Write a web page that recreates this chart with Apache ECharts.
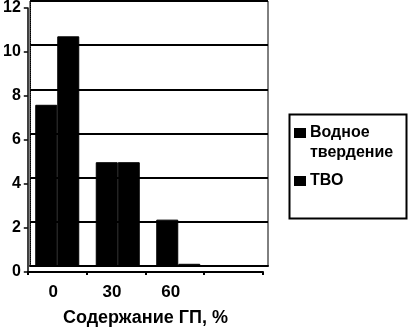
<!DOCTYPE html>
<html>
<head>
<meta charset="utf-8">
<script src="https://cdn.jsdelivr.net/npm/echarts@6/dist/echarts.min.js"></script>
<style>
  html, body { margin: 0; padding: 0; background: #fff; }
  #chart { width: 411px; height: 332px; }
</style>
</head>
<body>
<div id="chart"></div>
<script>
// данные
var categories = ['0', '30', '60', ''];
var vodnoe = [7.3, 4.7, 2.1, null];   // Водное твердение
var tvo = [10.4, 4.7, 0.1, null];     // ТВО
var yMin = 0, yMax = 12, yStep = 2;

var chartDom = document.getElementById('chart');
var myChart = echarts.init(chartDom);

var font = 'Liberation Sans, Arial, sans-serif';

var option = {
  animation: false,
  backgroundColor: '#fff',
  grid: [
    // задняя стенка (линии сетки)
    { left: 30, right: 143, top: 1, bottom: 66, show: true, borderColor: '#000', borderWidth: 1 },
    // передняя ось
    { left: 25, right: 148, top: 5, bottom: 59 },
    // столбцы
    { left: 27, right: 142, top: 1, bottom: 66 }
  ],
  legend: {
    orient: 'vertical',
    left: 294,
    top: 103,
    padding: 0,
    itemWidth: 10,
    itemHeight: 8,
    itemGap: 8,
    icon: 'rect',
    textStyle: { color: '#000', fontSize: 16, fontWeight: 'bold', fontFamily: font, lineHeight: 20 },
    // пустая строка сверху, чтобы маркер стоял у первой строки
    formatter: function (name) {
      return name === 'Водное твердение' ? '\nВодное\nтвердение' : name;
    },
    data: ['Водное твердение', 'ТВО']
  },
  xAxis: [
    {
      gridIndex: 0, type: 'category', data: categories,
      axisLine: { lineStyle: { color: '#000', width: 2 } },
      axisTick: { show: false }, axisLabel: { show: false }
    },
    {
      gridIndex: 1, type: 'category', data: categories,
      name: 'Содержание ГП, %', nameLocation: 'middle', nameGap: 37,
      nameTextStyle: { color: '#000', fontSize: 18, fontWeight: 'bold', fontFamily: font },
      axisLine: { lineStyle: { color: '#000', width: 2 } },
      axisTick: { show: true, length: 3, interval: 0, lineStyle: { color: '#000', width: 2 } },
      axisLabel: {
        color: '#000', fontSize: 17, fontWeight: 'bold', fontFamily: font,
        margin: 12, interval: 0, padding: [0, 8, 0, 0]
      }
    },
    { gridIndex: 2, type: 'category', data: categories, show: false }
  ],
  yAxis: [
    {
      gridIndex: 0, type: 'value', min: yMin, max: yMax, interval: yStep,
      axisLine: { show: true, lineStyle: { color: '#000', width: 1, type: 'dotted' } },
      axisTick: { show: false }, axisLabel: { show: false },
      splitLine: { show: true, lineStyle: { color: '#000', width: 2 } }
    },
    {
      gridIndex: 1, type: 'value', min: yMin, max: yMax, interval: yStep,
      axisLine: { show: true, lineStyle: { color: '#000', width: 1.5 } },
      axisTick: { show: true, length: 4, lineStyle: { color: '#000', width: 1.5 } },
      axisLabel: { color: '#000', fontSize: 16, fontWeight: 'bold', fontFamily: font, margin: 7 },
      splitLine: { show: false }
    },
    { gridIndex: 2, type: 'value', min: yMin, max: yMax, interval: yStep, show: false, splitLine: { show: false } }
  ],
  series: [
    {
      name: 'Водное твердение', type: 'bar', xAxisIndex: 2, yAxisIndex: 2,
      data: vodnoe, barWidth: 22, barGap: 0,
      itemStyle: { color: '#000', borderColor: '#000', borderWidth: 1 }
    },
    {
      name: 'ТВО', type: 'bar', xAxisIndex: 2, yAxisIndex: 2,
      data: tvo, barWidth: 22, barGap: 0,
      itemStyle: { color: '#000', borderColor: '#000', borderWidth: 1 }
    }
  ],
  graphic: [
    {
      type: 'rect', left: 287, top: 112, z: 10, silent: true,
      shape: { width: 117, height: 104 },
      style: { fill: 'none', stroke: '#000', lineWidth: 2 }
    }
  ]
};

myChart.setOption(option);
window.addEventListener('resize', function () {
  myChart.resize();
});
</script>
</body>
</html>
